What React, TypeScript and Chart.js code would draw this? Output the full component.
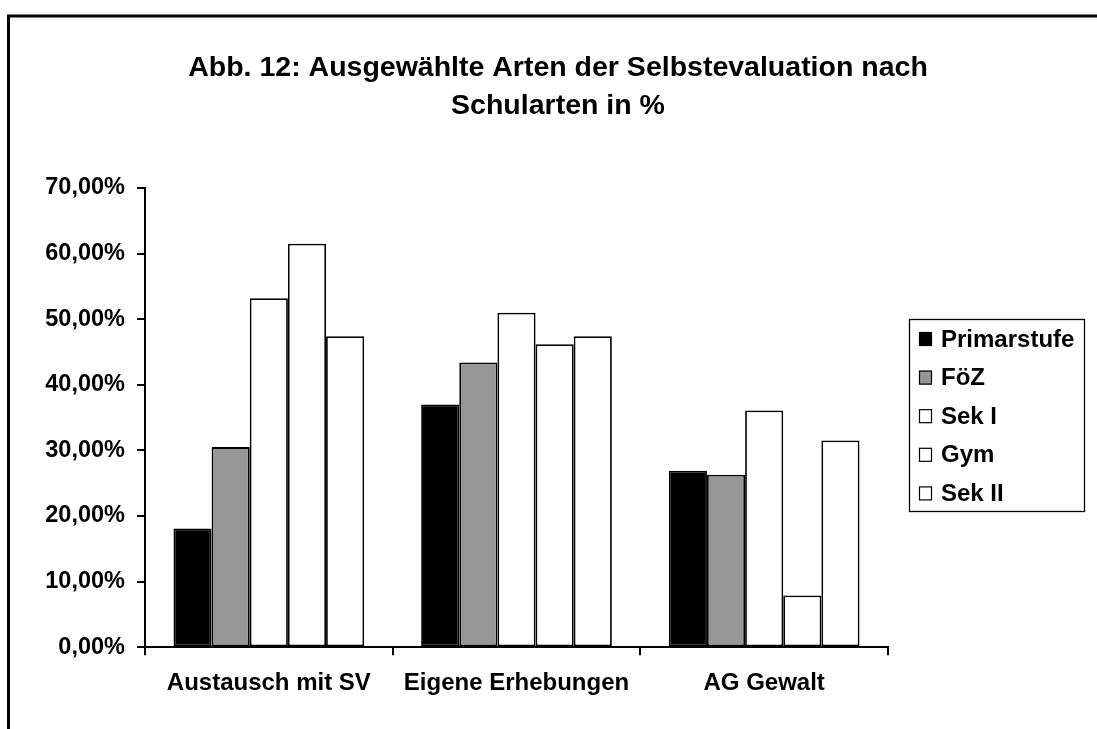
import React, { useEffect, useRef } from "react";
import { Chart, registerables } from "chart.js";

Chart.register(...registerables);

const FONT = "'Liberation Sans', Arial, Helvetica, sans-serif";

const titleLines = ["Abb. 12: Ausgewählte Arten der Selbstevaluation nach", "Schularten in %"];
const categories = ["Austausch mit SV", "Eigene Erhebungen", "AG Gewalt"];
const seriesNames = ["Primarstufe", "FöZ", "Sek I", "Gym", "Sek II"];
const seriesColors = ["#000000", "#969696", "#ffffff", "#ffffff", "#ffffff"];
const primarstufe = [18.1, 37.0, 26.9];
const foez = [30.5, 43.4, 26.3];
const sekI = [53.2, 51.0, 36.1];
const gym = [61.5, 46.2, 7.9];
const sekII = [47.4, 47.4, 31.5];
const seriesValues = [primarstufe, foez, sekI, gym, sekII];
const yTicks = [0, 10, 20, 30, 40, 50, 60, 70];

const W = 1097;
const H = 729;

const framePlugin = {
  id: "frame",
  beforeDraw(chart: any) {
    const ctx = chart.ctx;
    ctx.save();
    ctx.fillStyle = "#ffffff";
    ctx.fillRect(0, 0, W, H);
    ctx.strokeStyle = "#000000";
    ctx.lineWidth = 3;
    ctx.beginPath();
    ctx.moveTo(8.5, H + 5);
    ctx.lineTo(8.5, 16);
    ctx.lineTo(W + 5, 16);
    ctx.stroke();
    ctx.restore();
  },
};

const titlePlugin = {
  id: "customTitle",
  afterDraw(chart: any) {
    const ctx = chart.ctx;
    ctx.save();
    ctx.fillStyle = "#000000";
    ctx.font = `bold 28.5px ${FONT}`;
    ctx.textAlign = "center";
    ctx.textBaseline = "middle";
    titleLines.forEach((line, i) => {
      ctx.fillText(line, 558, 68 + i * 38);
    });
    ctx.restore();
  },
};

const legendPlugin = {
  id: "customLegend",
  afterDraw(chart: any) {
    const ctx = chart.ctx;
    const boxX = 909;
    const boxY = 319;
    const boxW = 175;
    const boxH = 192;
    ctx.save();
    ctx.strokeStyle = "#000000";
    ctx.lineWidth = 1.3;
    ctx.strokeRect(boxX + 0.5, boxY + 0.5, boxW, boxH);
    ctx.font = `bold 24px ${FONT}`;
    ctx.textAlign = "left";
    ctx.textBaseline = "middle";
    chart.data.datasets.forEach((ds: any, i: number) => {
      const cy = 339 + i * 38.6;
      ctx.fillStyle = ds.backgroundColor;
      ctx.fillRect(919, cy - 7, 13, 14);
      ctx.lineWidth = 1.2;
      ctx.strokeStyle = "#000000";
      ctx.strokeRect(919.5, cy - 6.5, 12, 13);
      ctx.fillStyle = "#000000";
      ctx.fillText(ds.label, 941, cy + 1);
    });
    ctx.restore();
  },
};

export default function App() {
  const ref = useRef<HTMLCanvasElement | null>(null);

  useEffect(() => {
    if (!ref.current) return;
    const chart = new Chart(ref.current, {
      type: "bar",
      data: {
        labels: categories,
        datasets: seriesNames.map((name, i) => ({
          label: name,
          data: seriesValues[i],
          backgroundColor: seriesColors[i],
          borderColor: "#000000",
          borderWidth: 1.8,
          borderSkipped: false,
          categoryPercentage: 0.77,
          barPercentage: 1.0,
        })),
      },
      options: {
        responsive: false,
        animation: false,
        devicePixelRatio: 1,
        layout: { padding: { left: 0, top: 188, right: 209, bottom: 17 } },
        plugins: {
          legend: { display: false },
          title: { display: false },
          tooltip: { enabled: false },
        },
        scales: {
          x: {
            grid: {
              display: true,
              drawOnChartArea: false,
              drawTicks: true,
              tickLength: 8,
              color: "#000000",
              lineWidth: 2,
              offset: true,
            },
            border: { display: true, color: "#000000", width: 2 },
            ticks: {
              color: "#000000",
              padding: 14,
              font: { family: FONT, size: 24, weight: "bold" },
              maxRotation: 0,
            },
          },
          y: {
            min: 0,
            max: 70,
            afterBuildTicks: (scale: any) => {
              scale.ticks = yTicks.map((v) => ({ value: v }));
            },
            afterFit: (scale: any) => {
              scale.width = 145;
            },
            grid: {
              display: true,
              drawOnChartArea: false,
              drawTicks: true,
              tickLength: 8,
              color: "#000000",
              lineWidth: 2,
            },
            border: { display: true, color: "#000000", width: 2 },
            ticks: {
              color: "#000000",
              padding: 12,
              font: { family: FONT, size: 23.5, weight: "bold" },
              callback: (v: any) => Number(v).toFixed(2).replace(".", ",") + "%",
            },
          },
        },
      },
      plugins: [framePlugin, titlePlugin, legendPlugin],
    } as any);
    return () => chart.destroy();
  }, []);

  return (
    <div style={{ position: "absolute", left: 0, top: 0, width: W, height: H, overflow: "hidden", background: "#fff" }}>
      <canvas ref={ref} width={W} height={H} style={{ width: W, height: H, display: "block" }} />
    </div>
  );
}
